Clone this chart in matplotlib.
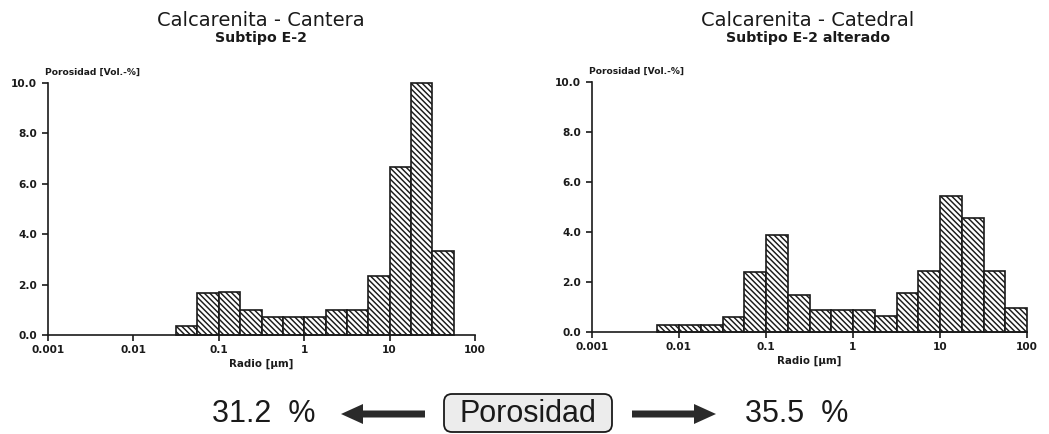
import numpy as np
import matplotlib
matplotlib.use("Agg")
import matplotlib.pyplot as plt
from matplotlib.patches import FancyBboxPatch, FancyArrow

# Pore-radius distribution (mercury porosimetry), quarter-decade bins
# Bin edges given as log10 of the radius in micrometres
cantera_edges_log = [-1.5, -1.25, -1.0, -0.75, -0.5, -0.25, 0.0, 0.25,
                     0.5, 0.75, 1.0, 1.25, 1.5, 1.75]
cantera_porosity = [0.35, 1.65, 1.7, 1.0, 0.7, 0.7, 0.7, 1.0, 1.0,
                    2.35, 6.65, 10.0, 3.35]

catedral_edges_log = [-2.25, -2.0, -1.75, -1.5, -1.25, -1.0, -0.75, -0.5,
                      -0.25, 0.0, 0.25, 0.5, 0.75, 1.0, 1.25, 1.5, 1.75, 2.0]
catedral_porosity = [0.3, 0.3, 0.3, 0.6, 2.4, 3.9, 1.5, 0.9, 0.9, 0.9,
                     0.65, 1.55, 2.45, 5.45, 4.55, 2.45, 0.95]

x_ticks = [0.001, 0.01, 0.1, 1, 10, 100]
x_tick_labels = ["0.001", "0.01", "0.1", "1", "10", "100"]
y_ticks = [0, 2, 4, 6, 8, 10]

titles = ["Calcarenita - Cantera", "Calcarenita - Catedral"]
subtitles = ["Subtipo E-2", "Subtipo E-2 alterado"]
total_porosity = ["31.2  %", "35.5  %"]
center_label = "Porosidad"

INK = "#1a1a1a"
plt.rcParams["hatch.linewidth"] = 1.05
plt.rcParams["hatch.color"] = INK

W, H = 1049, 434
fig = plt.figure(figsize=(W / 100, H / 100), dpi=100)
fig.patch.set_facecolor("white")

small = dict(family="DejaVu Sans", weight="bold", color=INK)


def draw_hist(ax, edges_log, values):
    edges = 10.0 ** np.asarray(edges_log)
    lefts = edges[:-1]
    widths = np.diff(edges)
    ax.bar(lefts, values, width=widths, align="edge", facecolor="white",
           edgecolor=INK, linewidth=1.2, hatch="\\" * 6, clip_on=False,
           zorder=2)
    ax.set_xscale("log")
    ax.set_xlim(0.001, 100)
    ax.set_ylim(0, 10)
    ax.set_xticks(x_ticks)
    ax.set_xticklabels(x_tick_labels)
    ax.minorticks_off()
    ax.set_yticks(y_ticks)
    ax.set_yticklabels([f"{v:.1f}" for v in y_ticks])
    for s in ("top", "right"):
        ax.spines[s].set_visible(False)
    for s in ("left", "bottom"):
        ax.spines[s].set_linewidth(1.2)
        ax.spines[s].set_color(INK)
    ax.tick_params(axis="both", direction="out", length=4.5, width=1.2,
                   color=INK)
    ax.tick_params(axis="x", pad=2.5)
    ax.tick_params(axis="y", pad=3.5)
    for lab in ax.get_xticklabels() + ax.get_yticklabels():
        lab.set_fontfamily("DejaVu Sans")
        lab.set_fontweight("heavy")
        lab.set_fontsize(7.6)
        lab.set_color(INK)
    ax.set_xlabel("Radio [µm]", fontsize=7.4, labelpad=3, **small)
    ax.text(-0.006, 1.025, "Porosidad [Vol.-%]", transform=ax.transAxes,
            ha="left", va="bottom", fontsize=6.6, **small)
    ax.set_facecolor("none")


ax1 = fig.add_axes([48 / W, (H - 335) / H, 427 / W, 252 / H])
draw_hist(ax1, cantera_edges_log, cantera_porosity)
ax2 = fig.add_axes([592 / W, (H - 332.3) / H, 435 / W, 250.6 / H])
draw_hist(ax2, catedral_edges_log, catedral_porosity)

# Overlay in pixel units for titles and the bottom annotation
ov = fig.add_axes([0, 0, 1, 1], zorder=-1)
ov.set_xlim(0, W)
ov.set_ylim(H, 0)
ov.axis("off")

for cx, t, st in zip([261, 808], titles, subtitles):
    ov.text(cx, 21, t, ha="center", va="center", fontsize=14,
            family="DejaVu Sans", color=INK)
    ov.text(cx, 38, st, ha="center", va="center", fontsize=10.2,
            family="DejaVu Sans", weight="bold", color=INK)

big = dict(family="Liberation Sans", fontsize=22, color=INK,
           ha="center", va="center")
ov.text(264, 414, total_porosity[0], **big)
ov.text(797, 414, total_porosity[1], **big)

box = FancyBboxPatch((444, 394), 168, 38,
                     boxstyle="round,pad=0,rounding_size=8",
                     facecolor="#ececec", edgecolor=INK, linewidth=1.3)
ov.add_patch(box)
ov.text(528, 414, center_label, **big)

arrow_kw = dict(width=7, head_width=20, head_length=22,
                length_includes_head=True, color="#2a2a2a", linewidth=0)
ov.add_patch(FancyArrow(425, 414, -84, 0, **arrow_kw))
ov.add_patch(FancyArrow(632, 414, 84, 0, **arrow_kw))

fig.savefig("out.png", dpi=100, facecolor="white")
